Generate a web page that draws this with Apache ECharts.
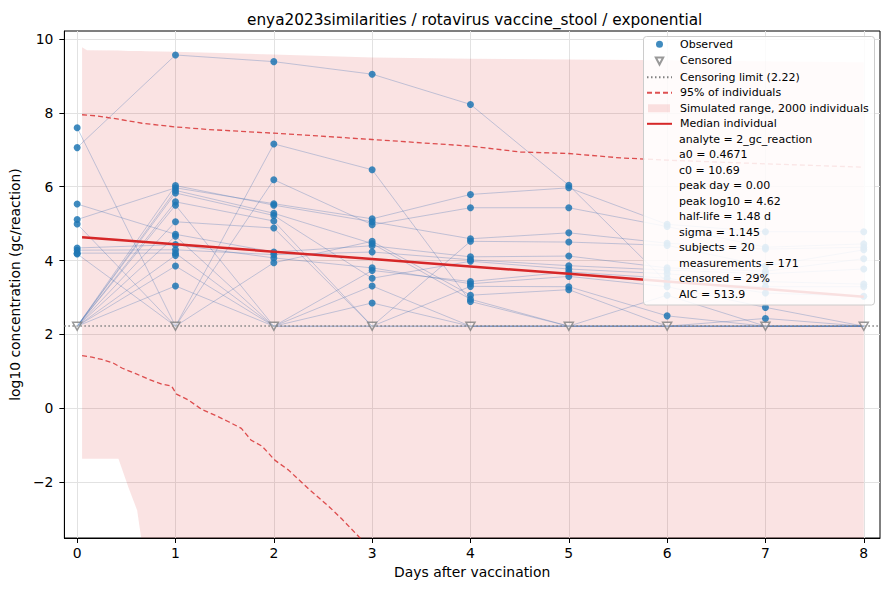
<!DOCTYPE html>
<html>
<head>
<meta charset="utf-8">
<script src="https://cdn.jsdelivr.net/npm/echarts@6/dist/echarts.min.js"></script>
<style>
  html, body { margin: 0; padding: 0; background: #fff; }
  #chart { width: 889px; height: 590px; }
</style>
</head>
<body>
<div id="chart"></div>
<script>
// ---------------- data ----------------
const days = [0, 1, 2, 3, 4, 5, 6, 7, 8];
const yTicks = [-2, 0, 2, 4, 6, 8, 10];
const LOD = 2.22;              // censoring limit (log10)
const C = 'C';                 // censored measurement
const M = null;                // missing measurement

// per-subject log10 concentrations, day 0..8
const subjectValues = [
  [7.06, 9.57, 9.39, 9.05, 8.23, 6.04, 3.40, 3.29, 3.29],
  [7.60, C,    7.16, 6.46, 2.89, C,    3.06, C,    C   ],
  [5.53, 4.71, 4.23, 4.40, 4.10, 4.12, 3.80, 3.71, 4.05],
  [5.11, 5.97, 5.54, 5.13, 5.79, 5.97, 4.98, 4.78, 4.78],
  [4.99, C,    6.19, 4.97, 5.43, 5.43, 4.92, 4.36, 4.45],
  [4.34, 4.43, 4.07, 3.80, 3.37, 3.57, 3.29, 2.73, C   ],
  [4.28, 4.29, 4.16, 4.23, 4.02, 3.86, 3.74, 3.64, 3.77],
  [4.20, 4.20, C,    3.73, 3.43, 3.69, 3.52, 3.12, 3.03],
  [4.18, C,    3.94, 4.52, 3.06, 3.21, C,    2.43, C   ],
  [C,    6.03, 5.50, 5.05, 4.59, 4.75, 4.47, 4.31, 4.36],
  [C,    5.90, 5.28, 4.46, 2.95, C,    C,    C,    C   ],
  [C,    5.83, 5.22, 3.52, 3.98, 3.77, 3.64, 3.43, 3.36],
  [C,    5.59, 5.07, C,    4.52, 4.50, 4.41, 3.85, 4.29],
  [C,    5.50, C,    2.85, C,    C,    C,    C,    C   ],
  [C,    5.05, 4.88, C,    3.30, 3.29, 2.50, C,    C   ],
  [C,    4.66, C,    C,    M,    C,    C,    C,    C   ],
  [C,    3.85, C,    3.31, C,    C,    C,    M,    M   ],
  [C,    3.31, C,    M,    C,    C,    C,    C,    C   ],
  [C,    4.14, M,    C,    C,    C,    M,    C,    C   ],
  [C,    M,    C,    C,    C,    M,    C,    C,    M   ]
];

// simulated range (2000 individuals)
const bandX     = [0.05, 0.10, 0.42, 0.52, 0.61, 0.65, 0.70, 1.00, 2.00, 3.00, 4.00, 5.00, 6.00, 7.00, 8.00];
const bandUpper = [9.78, 9.70, 9.69, 9.68, 9.68, 9.68, 9.67, 9.66, 9.58, 9.50, 9.47, 9.45, 9.43, 9.40, 9.37];
const bandLower = [-1.37, -1.37, -1.37, -2.14, -2.77, -3.50, -3.80, -3.80, -3.80, -3.80, -3.80, -3.80, -3.80, -3.80, -3.80];

// 95% of individuals
const upper95X = [0.05, 0.20, 0.42, 0.66, 1.00, 1.34, 2.00, 2.48, 3.00, 3.50, 4.00, 4.51, 5.00, 5.53, 6.00, 7.00, 8.00];
const upper95  = [7.95, 7.92, 7.83, 7.72, 7.62, 7.55, 7.45, 7.37, 7.28, 7.19, 7.10, 6.94, 6.90, 6.78, 6.72, 6.62, 6.53];
const lower95X = [0.05, 0.15, 0.25, 0.36, 0.46, 0.59, 0.73, 0.86, 0.96, 1.01, 1.13, 1.27, 1.40, 1.54, 1.67, 1.77, 1.88, 2.01, 2.15, 2.35, 2.55, 2.69, 2.87, 3.00];
const lower95  = [1.42, 1.38, 1.32, 1.23, 1.08, 0.94, 0.78, 0.65, 0.60, 0.38, 0.22, -0.04, -0.19, -0.37, -0.55, -0.87, -1.03, -1.41, -1.68, -2.18, -2.64, -3.00, -3.50, -3.85];

// median individual
const medianX = [0.05, 1, 2, 3, 4, 5, 6, 7, 8];
const medianY = [4.63, 4.44, 4.24, 4.04, 3.84, 3.64, 3.43, 3.23, 3.02];

const titleText = 'enya2023similarities / rotavirus vaccine_stool / exponential';
const statsLines = [
  'analyte = 2_gc_reaction',
  'a0 = 0.4671',
  'c0 = 10.69',
  'peak day = 0.00',
  'peak log10 = 4.62',
  'half-life = 1.48 d',
  'sigma = 1.145',
  'subjects = 20',
  'measurements = 171',
  'censored = 29%',
  'AIC = 513.9'
];

// ---------------- build ----------------
const FONT = 'DejaVu Sans';
const BLUE = '#1f77b4';
const RED = '#d62728';
const bandColor = 'rgba(214,39,40,0.13)';
const hiddenSymbol = { color: 'rgba(0,0,0,0)', borderWidth: 0, opacity: 0 };

const pairs = (xs, ys) => xs.map((x, i) => [x, ys[i]]);

const observedPts = [];
subjectValues.forEach(s => s.forEach((v, j) => { if (typeof v === 'number') observedPts.push([days[j], v]); }));
const censoredPts = days.filter((d, j) => subjectValues.some(s => s[j] === C)).map(d => [d, LOD]);

const subjectSeries = subjectValues.map((s, i) => ({
  type: 'line',
  name: 'Subject ' + (i + 1),
  data: s.map((v, j) => [days[j], v === C ? LOD : (v === null ? '-' : v)]),
  symbol: 'none',
  connectNulls: false,
  silent: true,
  z: 2,
  lineStyle: { color: 'rgba(60,110,180,0.3)', width: 1 }
}));

const fmtTick = (v, step) => {
  const r = Math.round(v);
  if (Math.abs(v - r) > 1e-6 || r % step !== 0) return '';
  return r < 0 ? '\u2212' + Math.abs(r) : String(r);
};

const chart = echarts.init(document.getElementById('chart'), null, { renderer: 'svg' });

const option = {
  backgroundColor: '#fff',
  animation: false,
  title: {
    text: titleText,
    left: 242, top: 7,
    textStyle: { fontFamily: FONT, fontSize: 15.3, fontWeight: 'normal', color: '#000' }
  },
  grid: { left: 62, right: 9, top: 31, bottom: 52, show: true, borderColor: '#000', borderWidth: 1, backgroundColor: 'transparent' },
  xAxis: {
    type: 'value', min: -0.13, max: 8.165, minInterval: 1, maxInterval: 1,
    name: 'Days after vaccination', nameLocation: 'middle', nameGap: 27,
    nameTextStyle: { fontFamily: FONT, fontSize: 13.9, color: '#000' },
    axisLine: { onZero: false, lineStyle: { color: '#000', width: 1 } },
    axisTick: { length: 5, lineStyle: { color: '#000' }, customValues: days },
    axisLabel: { fontFamily: FONT, fontSize: 13.9, color: '#000', margin: 8, customValues: days, formatter: v => fmtTick(v, 1) },
    splitLine: { show: true, lineStyle: { color: '#e2e2e2', width: 1 } }
  },
  yAxis: {
    type: 'value', min: -3.52, max: 10.22, minInterval: 2, maxInterval: 2,
    name: 'log10 concentration (gc/reaction)', nameLocation: 'middle', nameGap: 39,
    nameTextStyle: { fontFamily: FONT, fontSize: 13.9, color: '#000' },
    axisLine: { onZero: false, lineStyle: { color: '#000', width: 1 } },
    axisTick: { length: 5, lineStyle: { color: '#000' }, customValues: yTicks },
    axisLabel: { fontFamily: FONT, fontSize: 13.9, color: '#000', margin: 11, customValues: yTicks, formatter: v => fmtTick(v, 2) },
    splitLine: { show: true, lineStyle: { color: '#e2e2e2', width: 1 } }
  },
  legend: {
    orient: 'vertical', left: 646, top: 38.8, padding: 0,
    itemWidth: 25, itemHeight: 11, itemGap: 4.5,
    selectedMode: false, z: 20,
    textStyle: { fontFamily: FONT, fontSize: 11, color: '#000', padding: [0, 0, 0, 3] },
    data: [
      { name: 'Observed', icon: 'path://M0,0 M11,11 M9,5.5 A3.5,3.5 0 1 1 2,5.5 A3.5,3.5 0 1 1 9,5.5 Z' },
      { name: 'Censored', icon: 'path://M0,0 M11,11 M1.8,2.2 L9.2,2.2 L5.5,9.2 Z' },
      { name: 'Censoring limit (2.22)', itemStyle: hiddenSymbol },
      { name: '95% of individuals', itemStyle: hiddenSymbol },
      { name: 'Simulated range, 2000 individuals', icon: 'path://M0,0 M25,11 M1,1.5 L23,1.5 L23,9.5 L1,9.5 Z' },
      { name: 'Median individual', itemStyle: hiddenSymbol }
    ]
  },
  graphic: [
    {
      type: 'rect', z: 15, silent: true,
      shape: { x: 643.5, y: 36.5, width: 231, height: 268.5, r: 3 },
      style: { fill: 'rgba(255,255,255,0.86)', stroke: '#cccccc', lineWidth: 1 }
    }
  ].concat(statsLines.map((t, k) => ({
    type: 'text', z: 21, silent: true,
    x: 679, y: 139.3 + k * 15.5,
    style: { text: t, fontFamily: FONT, fontSize: 11, fill: '#000', verticalAlign: 'middle', align: 'left' }
  }))),
  series: [
    {
      type: 'custom', name: 'Simulated range, 2000 individuals', z: 1, clip: true, silent: true,
      data: [[0, 0]],
      itemStyle: { color: bandColor },
      renderItem: (params, api) => {
        const pts = [];
        for (let i = 0; i < bandX.length; i++) pts.push(api.coord([bandX[i], bandUpper[i]]));
        for (let i = bandX.length - 1; i >= 0; i--) pts.push(api.coord([bandX[i], bandLower[i]]));
        const cs = params.coordSys;
        return {
          type: 'polygon',
          shape: { points: pts },
          style: { fill: bandColor },
          clipPath: { type: 'rect', shape: { x: cs.x, y: cs.y, width: cs.width, height: cs.height } }
        };
      }
    },
    ...subjectSeries,
    {
      type: 'line', name: 'Censoring limit (2.22)', data: [], symbol: 'none', z: 3,
      itemStyle: { color: '#808080' },
      lineStyle: { color: '#808080', width: 1.5, type: [1.5, 2.5] },
      markLine: {
        silent: true, symbol: ['none', 'none'], label: { show: false },
        lineStyle: { color: '#808080', width: 1.5, type: [1.5, 2.5] },
        data: [{ yAxis: LOD }]
      }
    },
    {
      type: 'line', name: '95% of individuals', data: pairs(upper95X, upper95), symbol: 'none', z: 3, silent: true,
      itemStyle: { color: RED },
      lineStyle: { color: 'rgba(214,39,40,0.8)', width: 1.3, type: [5, 3] }
    },
    {
      type: 'line', name: '95% of individuals', data: pairs(lower95X, lower95), symbol: 'none', z: 3, silent: true,
      itemStyle: { color: RED },
      lineStyle: { color: 'rgba(214,39,40,0.8)', width: 1.3, type: [5, 3] }
    },
    {
      type: 'scatter', name: 'Observed', data: observedPts, symbol: 'circle', symbolSize: 7, z: 4, silent: true,
      itemStyle: { color: BLUE, opacity: 0.85 }
    },
    {
      type: 'scatter', name: 'Censored', data: censoredPts, symbol: 'triangle', symbolRotate: 180, symbolSize: [9, 8], z: 5, silent: true,
      itemStyle: { color: 'rgba(255,255,255,0.45)', borderColor: '#7f7f7f', borderWidth: 1.5 }
    },
    {
      type: 'line', name: 'Median individual', data: pairs(medianX, medianY), symbol: 'none', z: 6, silent: true,
      itemStyle: { color: RED },
      lineStyle: { color: RED, width: 2.5 }
    }
  ]
};

chart.setOption(option);
</script>
</body>
</html>
